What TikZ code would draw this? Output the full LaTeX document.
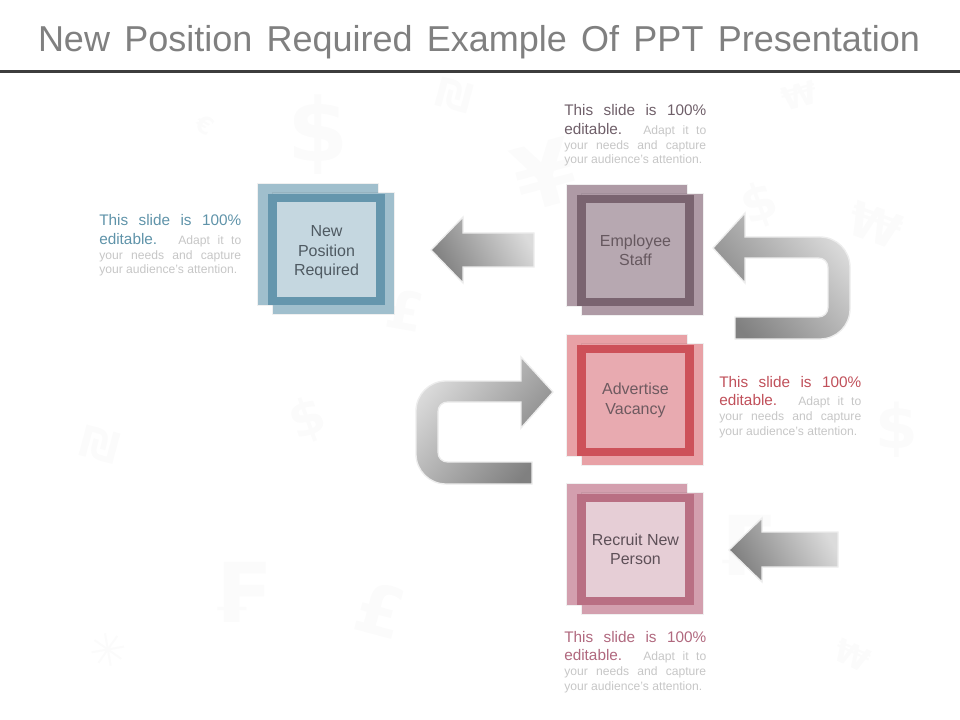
\documentclass[tikz,border=0pt]{standalone}
\usepackage{fontspec}
\setmainfont{Liberation Sans}
\newfontfamily\wmfont{DejaVu Sans}
\definecolor{smallgray}{HTML}{C6C6C6}
\definecolor{wm}{HTML}{FBFBFB}
\tikzset{
  boxlabel/.style={align=center,inner sep=0pt,minimum width=74.25pt,minimum height=71.25pt,font=\fontsize{12}{14.6}\selectfont},
  softedge/.style={preaction={draw=black,draw opacity=0.06,line width=1.6pt}},
  blurb/.style={anchor=base west,inner sep=0pt},
  blockarrow/.style={draw=black!7,line width=1pt,top color=black!14,bottom color=black!50,shading angle=#1},
  wmark/.style={text=wm,inner sep=0pt}
}
\newcommand{\slidebox}[7]{%
  \begin{scope}[shift={(#1,#2)}]
    \path[softedge,fill=#3] (0,0) rectangle (120,121);
    \path[softedge,fill=#3] (15,9) rectangle (136,130);
    \fill[#4] (10,10) rectangle (127,121);
    \node[boxlabel,fill=#5,text=#6] (#7) at (68.5,65.5) {\csname #7text\endcsname};
  \end{scope}}
\newcommand{\slidetext}[4]{%
  \node[blurb] (#1) at (#2,#3) {\vtop{\hsize=106.5pt\parindent=0pt\lineskiplimit=-30pt
    \baselineskip=14pt
    \hbox to 106.5pt{\color{#4}\fontsize{11.5}{14}\selectfont This slide is 100\%}
    \hbox to 106.5pt{\color{#4}\fontsize{11.5}{14}\selectfont editable.\hskip 6pt plus 4pt\color{smallgray}\fontsize{9.1}{11}\selectfont Adapt it to}
    \baselineskip=11pt
    \hbox to 106.5pt{\color{smallgray}\fontsize{9.1}{11}\selectfont your needs and capture}
    \hbox{\color{smallgray}\fontsize{9.1}{11}\selectfont your audience's attention.}}};}
\newcommand{\wmsign}[5]{\node[wmark,rotate=#3,font=\wmfont\bfseries\fontsize{#4}{#4}\selectfont] at (#1,#2) {#5};}
\begin{document}
\begin{tikzpicture}[x=0.75pt,y=-0.75pt]
\useasboundingbox (0,0) rectangle (960,720);
% faint background currency signs
\wmsign{318}{135}{0}{66}{\$}
\wmsign{455}{95}{-15}{30}{₪}
\wmsign{205}{125}{-30}{18}{€}
\wmsign{545}{175}{15}{66}{¥}
\wmsign{800}{96}{15}{24}{₩}
\wmsign{100}{445}{-15}{32}{₪}
\wmsign{308}{420}{20}{38}{\$}
\wmsign{897}{430}{0}{46}{\$}
\wmsign{240}{592}{0}{62}{₣}
\wmsign{380}{610}{-15}{52}{£}
\wmsign{875}{225}{-20}{36}{₩}
\wmsign{852}{655}{-25}{24}{₩}
\wmsign{760}{205}{20}{38}{\$}
\wmsign{745}{545}{0}{62}{₣}
\wmsign{405}{310}{-10}{40}{£}
\wmsign{108}{650}{10}{34}{✳}
% title
\node[anchor=base,inner sep=0pt,text=black!50] (title) at (479,52) {\hbox to 661.5pt{\fontsize{27}{32}\selectfont New Position Required Example Of PPT Presentation}};
\coordinate (ruleL) at (0,72);
\coordinate (ruleR) at (960,72);
\draw[line width=2.25pt,draw=black!76] (ruleL) -- (ruleR);
% squares
\def\NPtext{\rule{0pt}{12.5pt}New\\Position\\Required}
\def\EStext{Employee\\Staff}
\def\AVtext{Advertise\\Vacancy}
\def\RNtext{Recruit New\\Person}
\definecolor{a1}{HTML}{A0BFCD}\definecolor{a2}{HTML}{6596AD}\definecolor{a3}{HTML}{C5D7E0}\definecolor{a4}{HTML}{4F5A62}
\definecolor{b1}{HTML}{AE9AA5}\definecolor{b2}{HTML}{7A6470}\definecolor{b3}{HTML}{B7A8B1}\definecolor{b4}{HTML}{66585F}
\definecolor{c1}{HTML}{E8A1A6}\definecolor{c2}{HTML}{CD5159}\definecolor{c3}{HTML}{E8AAB0}\definecolor{c4}{HTML}{6E5A60}
\definecolor{d1}{HTML}{D39FAE}\definecolor{d2}{HTML}{B96F83}\definecolor{d3}{HTML}{E6CED6}\definecolor{d4}{HTML}{5E5058}
\slidebox{258}{184}{a1}{a2}{a3}{a4}{NP}
\slidebox{567}{185}{b1}{b2}{b3}{b4}{ES}
\slidebox{567}{335}{c1}{c2}{c3}{c4}{AV}
\slidebox{567}{484}{d1}{d2}{d3}{d4}{RN}
% text blocks
\definecolor{t1}{HTML}{5F93A9}\definecolor{t2}{HTML}{6F5F69}\definecolor{t3}{HTML}{C0505A}\definecolor{t4}{HTML}{B0687E}
\slidetext{T1}{99}{226}{t1}
\slidetext{T2}{564}{116}{t2}
\slidetext{T3}{719}{387}{t3}
\slidetext{T4}{564}{642}{t4}
% arrows
\path[blockarrow=-60] (431,250) -- (463,217) -- (463,233) -- (534,233) -- (534,267) -- (463,267) -- (463,283) -- cycle;
\path[blockarrow=-60] (729,550) -- (762,518) -- (762,532) -- (838,532) -- (838,567) -- (762,567) -- (762,582) -- cycle;
\path[blockarrow=-50] (713,248) -- (745,213) -- (745,237) -- (820,237) .. controls (836.6,237) and (850,250.4) .. (850,267) -- (850,309) .. controls (850,325.6) and (836.6,339) .. (820,339) -- (735,339) -- (735,317) -- (818,317) .. controls (824,317) and (828,313) .. (828,307) -- (828,268) .. controls (828,262) and (824,258) .. (818,258) -- (745,258) -- (745,283) -- cycle;
\path[blockarrow=50] (553,392) -- (521,357) -- (521,381) -- (446,381) .. controls (429.4,381) and (416,394.4) .. (416,411) -- (416,454) .. controls (416,470.6) and (429.4,484) .. (446,484) -- (532,484) -- (532,462) -- (448,462) .. controls (442,462) and (438,458) .. (438,452) -- (438,412) .. controls (438,406) and (442,402) .. (448,402) -- (521,402) -- (521,428) -- cycle;
\end{tikzpicture}
\end{document}
